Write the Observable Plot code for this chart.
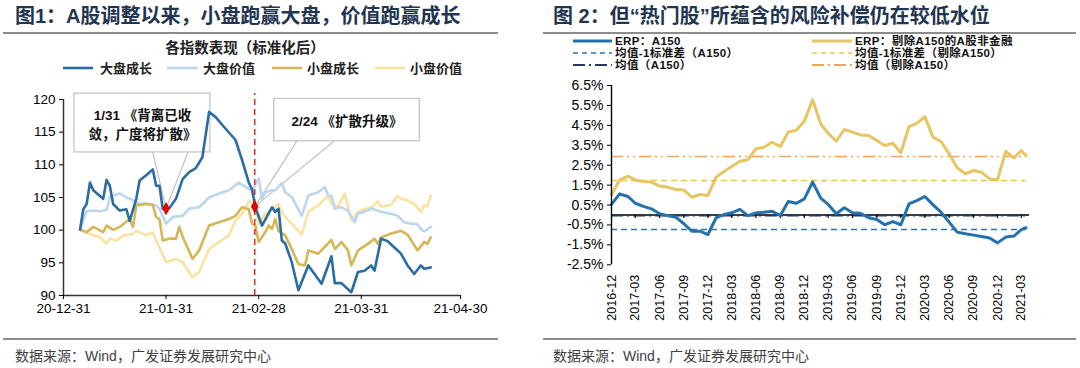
<!DOCTYPE html>
<html><head><meta charset="utf-8">
<script src="https://cdn.jsdelivr.net/npm/d3@7"></script>
<script src="https://cdn.jsdelivr.net/npm/@observablehq/plot@0.6"></script>
<style>
body{margin:0;background:#fff;width:1080px;height:368px;position:relative;overflow:hidden;font-family:"Liberation Sans","Noto Sans CJK SC",sans-serif;}
.title{position:absolute;top:4px;font-family:"Liberation Sans","Noto Sans CJK SC";font-weight:bold;font-size:20px;line-height:24px;color:#1f3550;white-space:nowrap;}
.foot{position:absolute;top:347px;font-family:"Liberation Sans","Noto Sans CJK SC";font-size:14px;line-height:18px;color:#404040;white-space:nowrap;}
.chart{position:absolute;}
</style></head>
<body>
<div class="title" style="left:15px">图1：A股调整以来，小盘跑赢大盘，价值跑赢成长</div>
<div class="title" style="left:553px">图 2：但“热门股”所蕴含的风险补偿仍在较低水位</div>
<div class="foot" style="left:15px">数据来源：Wind，广发证券发展研究中心</div>
<div class="foot" style="left:553px">数据来源：Wind，广发证券发展研究中心</div>
<div id="left" class="chart" style="left:0;top:80px"></div>
<div id="right" class="chart" style="left:540px;top:75px"></div>
<script>
// ---------- Left chart data (day offsets from 2020-12-31) ----------
const leftSubtitle = "各指数表现（标准化后）";
const seriesNames = ["大盘成长", "大盘价值", "小盘成长", "小盘价值"];
const bgDays = [5,6,7,8,9,12,13,14,15,17,19,20,22,23,25,27,28,29,30,31,32,34,36,38,40,42,44,46,48,52,54,56,57,58,60,63,64,65,66,67,69,71,74,78,81,82,84,87,89,91,93,94,96,98,101,102,104,106,108,109,111];
const bgVals = [100.1,103.2,104.0,107.3,106.1,104.8,107.7,106.8,104.0,103.0,103.2,101.4,104.8,107.6,108.4,109.3,106.8,106.8,103.3,103.2,103.4,104.8,107.8,108.9,109.5,111.2,118.1,117.3,116.1,113.8,110.7,107.3,106.2,103.5,100.7,103.5,102.8,103.3,98.4,98.0,95.1,90.8,94.6,91.8,96.0,91.9,91.9,90.5,93.6,93.8,94.6,93.8,98.7,98.3,96.9,96.4,94.6,93.3,94.6,94.1,94.3];
const bvDays = [5,7,9,11,13,14,15,17,19,21,23,25,28,29,31,33,36,38,41,44,47,50,53,55,57,59,60,61,63,64,66,67,69,72,74,77,79,80,81,82,84,86,88,89,92,93,96,99,101,103,105,107,108,109,111];
const bvVals = [100.05,102.9,103.0,102.9,103.1,105.0,105.3,105.6,105.0,104.6,104.0,104.1,103.8,103.3,101.0,102.0,102.2,103.3,103.5,105.0,105.6,106.1,107.3,106.6,106.1,107.9,104.8,105.8,106.1,106.1,107.2,105.8,105.1,102.2,105.3,105.8,106.6,105.3,105.2,103.3,103.5,103.0,101.2,102.5,103.0,103.3,102.8,102.5,102.2,101.2,101.0,100.9,100.2,99.8,100.5];
const sgDays = [5,7,9,12,13,15,17,20,21,22,25,27,28,29,30,32,34,35,36,39,41,44,47,50,52,54,56,57,58,59,61,62,63,64,65,67,69,71,73,74,77,81,82,84,86,87,89,92,94,95,96,99,102,104,107,109,110,111];
const sgVals = [100.05,99.7,100.5,99.7,100.7,100.05,100.5,101.7,100.5,103.8,104.0,103.9,102.0,101.7,98.4,98.7,98.7,100.5,99.0,95.6,96.9,100.7,101.2,101.7,102.2,103.5,103.2,101.0,100.7,98.2,99.7,100.7,100.2,101.7,99.9,99.2,97.1,94.8,94.6,96.9,96.4,98.5,97.1,98.2,96.9,94.6,96.9,97.9,98.7,97.9,98.9,99.5,99.9,99.3,96.9,98.2,97.9,98.9];
const svDays = [5,8,11,13,14,16,18,21,22,25,27,28,31,34,36,39,41,44,47,50,52,54,56,58,59,61,63,65,66,67,69,72,74,77,79,80,81,83,85,87,89,92,93,95,96,99,101,102,104,106,108,109,110,111];
const svVals = [100.05,99.4,98.9,97.9,98.7,98.4,99.2,99.4,99.9,99.2,99.7,98.4,95.1,95.6,95.1,92.8,93.6,97.1,98.2,99.2,101.5,102.5,104.5,103.6,101.0,102.5,103.3,104.0,102.8,102.0,101.0,99.3,102.8,103.8,104.8,105.3,104.0,103.6,105.6,101.5,102.8,103.4,103.4,104.4,103.6,103.9,105.3,104.8,104.6,104.0,102.8,103.8,103.6,105.3];
const leftXTickDays = [0, 31, 59, 90, 120];
const leftYTicks = [90, 95, 100, 105, 110, 115, 120];
// annotations (data units)
const noteText = ["1/31 《背离已收\n敛，广度将扩散》", "2/24 《扩散升级》"];
const noteBoxDays = [[3.3, 44.4], [63.7, 107.7]];
const noteBoxVals = [[111.9, 120.9], [113.6, 120.1]];
const notePointerDays = [[27, 37.6], [70.5, 81.7]];
const noteTipDays = [31, 57.8];
const noteTipVals = [103.3, 103.6];
const eventLineDay = 57.8;

// ---------- Right chart data ----------
const erpDates = ["2016-12-01","2017-01-01","2017-02-01","2017-03-01","2017-04-01","2017-05-01","2017-06-01","2017-07-01","2017-08-01","2017-09-01","2017-10-01","2017-11-01","2017-12-01",
"2018-01-01","2018-02-01","2018-03-01","2018-04-01","2018-05-01","2018-06-01","2018-07-01","2018-08-01","2018-09-01","2018-10-01","2018-11-01","2018-12-01",
"2019-01-01","2019-02-01","2019-03-01","2019-04-01","2019-05-01","2019-06-01","2019-07-01","2019-08-01","2019-09-01","2019-10-01","2019-11-01","2019-12-01",
"2020-01-01","2020-02-01","2020-03-01","2020-04-01","2020-05-01","2020-06-01","2020-07-01","2020-08-01","2020-09-01","2020-10-01","2020-11-01","2020-12-01",
"2021-01-01","2021-02-01","2021-03-01","2021-03-19"];
const erpA150 = [0.53,1.06,0.93,0.59,0.43,0.31,0.06,-0.03,-0.11,-0.44,-0.81,-0.81,-0.98,
-0.14,0.03,0.11,0.28,-0.03,0.11,0.14,0.19,-0.03,0.68,0.59,0.81,
1.65,0.85,0.53,0.06,0.36,0.11,0.09,-0.14,-0.23,-0.49,-0.33,-0.49,
0.56,0.73,0.93,0.51,0.14,-0.36,-0.86,-0.94,-1.01,-1.08,-1.15,-1.40,
-1.11,-1.06,-0.74,-0.64];
const erpExA150 = [1.02,1.76,1.95,1.76,1.68,1.65,1.45,1.40,1.28,1.26,0.89,1.03,0.98,
1.90,2.20,2.43,2.70,2.77,3.33,3.40,3.65,3.44,4.16,4.27,4.71,
5.78,4.57,4.10,3.70,4.29,4.16,4.02,3.99,3.74,3.49,3.60,3.12,
4.44,4.61,4.94,3.90,3.69,3.07,2.37,2.07,2.23,2.15,1.81,1.76,
3.19,2.87,3.24,2.98];
const meanA150 = -0.03, meanMinusSdA150 = -0.73;
const meanEx = 2.93, meanMinusSdEx = 1.73;
const rightXTicks = ["2016-12","2017-03","2017-06","2017-09","2017-12","2018-03","2018-06","2018-09","2018-12","2019-03","2019-06","2019-09","2019-12","2020-03","2020-06","2020-09","2020-12","2021-03"];
const rightYTicks = [-2.5,-1.5,-0.5,0.5,1.5,2.5,3.5,4.5,5.5,6.5];
const rightLegend = ["ERP：A150","均值-1标准差（A150）","均值（A150）","ERP：剔除A150的A股非金融","均值-1标准差（剔除A150）","均值（剔除A150）"];

// ---------- styles ----------
const C = {bg:"#2b6ca3", bv:"#bcd6ee", sg:"#d6b656", sv:"#f9e3a0",
  blue:"#2571ad", yellow:"#e6c562", blueDash:"#2e75b6", yellowDash:"#f0c24e", orange:"#f4a25a", navy:"#1f3864"};
const FONT = "Liberation Sans, Arial, Noto Sans CJK SC, sans-serif";

const day0 = Date.UTC(2020, 11, 31);
const toDate = d => new Date(day0 + d * 864e5);
const mk = (days, vals) => days.map((d, i) => ({date: toDate(d), value: vals[i]}));

const leftSeries = [
  {data: mk(svDays, svVals), color: C.sv},
  {data: mk(bvDays, bvVals), color: C.bv},
  {data: mk(sgDays, sgVals), color: C.sg},
  {data: mk(bgDays, bgVals), color: C.bg}
];
const boxes = noteText.map((t, i) => ({
  x1: toDate(noteBoxDays[i][0]), x2: toDate(noteBoxDays[i][1]),
  y1: noteBoxVals[i][0], y2: noteBoxVals[i][1],
  xm: toDate((noteBoxDays[i][0] + noteBoxDays[i][1]) / 2),
  ym: (noteBoxVals[i][0] + noteBoxVals[i][1]) / 2, text: t}));
const pointers = noteText.flatMap((t, i) => [
  {id: i, date: toDate(notePointerDays[i][0]), value: noteBoxVals[i][0]},
  {id: i, date: toDate(noteTipDays[i]), value: noteTipVals[i]},
  {id: i, date: toDate(notePointerDays[i][1]), value: noteBoxVals[i][0]}]);
const markers = noteTipDays.map((d, i) => ({date: toDate(d), value: noteTipVals[i]}));

const left = Plot.plot({
  width: 540, height: 245, marginLeft: 63, marginRight: 80, marginTop: 19, marginBottom: 30,
  style: {fontFamily: FONT, fontSize: "13px", color: "#000", background: "transparent", overflow: "visible"},
  x: {type: "utc", domain: [toDate(0), toDate(120)]},
  y: {domain: [90, 120]},
  marks: [
    Plot.rect(boxes, {x1: "x1", x2: "x2", y1: "y1", y2: "y2", fill: "white", stroke: "#c0c0c0", strokeWidth: 1.2}),
    Plot.line(pointers, {x: "date", y: "value", z: "id", stroke: "#c0c0c0", strokeWidth: 1.2}),
    ...leftSeries.map(s => Plot.line(s.data, {x: "date", y: "value", stroke: s.color, strokeWidth: 2.6})),
    Plot.ruleX([toDate(eventLineDay)], {y1: 90, y2: noteBoxVals[0][1], stroke: "#d63a34", strokeWidth: 1.6, strokeDasharray: "6,4"}),
    Plot.dot(markers, {x: "date", y: "value", symbol: "diamond", fill: "#e00000", r: 4}),
    Plot.text(boxes, {x: "xm", y: "ym", text: "text", fontSize: 13.5, fontWeight: "bold", lineHeight: 1.45, fill: "#111", fontFamily: FONT}),
    Plot.ruleY([90], {stroke: "#333", strokeWidth: 1.5}),
    Plot.ruleX([toDate(0)], {y1: 90, y2: 120, stroke: "#333", strokeWidth: 1.5}),
    Plot.axisX({ticks: leftXTickDays.map(toDate), tickFormat: d3.utcFormat("%y-%m-%d"), tickSize: 4, tickPadding: 4, label: null, fontSize: 13.5}),
    Plot.axisY({ticks: leftYTicks, tickSize: 4, tickPadding: 4, label: null, fontSize: 13.5})
  ]
});
document.getElementById("left").append(left);

const pd = s => new Date(s.length === 7 ? s + "-01" : s);
const erpRows = erpDates.map((d, i) => ({date: pd(d), a: erpA150[i], ex: erpExA150[i]}));
const xFirst = pd(erpDates[0]), xLast = pd(erpDates[erpDates.length - 1]);
const right = Plot.plot({
  width: 540, height: 255, marginLeft: 71, marginRight: 51, marginTop: 10, marginBottom: 65.7,
  style: {fontFamily: FONT, fontSize: "13px", color: "#000", background: "transparent", overflow: "visible"},
  x: {type: "utc", domain: [pd("2016-12"), pd("2021-04")]},
  y: {domain: [-2.5, 6.5]},
  marks: [
    Plot.ruleY([meanMinusSdA150], {x1: xFirst, x2: xLast, stroke: C.blueDash, strokeWidth: 1.5, strokeDasharray: "6,4"}),
    Plot.ruleY([meanMinusSdEx], {x1: xFirst, x2: xLast, stroke: C.yellowDash, strokeWidth: 1.5, strokeDasharray: "6,4"}),
    Plot.ruleY([meanEx], {x1: xFirst, x2: xLast, stroke: C.orange, strokeWidth: 1.5, strokeDasharray: "12,4,2,4,2,4"}),
    Plot.ruleY([0], {stroke: "#000", strokeWidth: 1.4}),
    Plot.ruleY([meanA150], {x1: xFirst, x2: xLast, stroke: C.navy, strokeWidth: 1.8, strokeDasharray: "12,4,2,4"}),
    Plot.ruleX(rightXTicks.map(pd), {y1: 0, y2: -0.18, stroke: "#000", strokeWidth: 1.2}),
    Plot.line(erpRows, {x: "date", y: "ex", stroke: C.yellow, strokeWidth: 3}),
    Plot.line(erpRows, {x: "date", y: "a", stroke: C.blue, strokeWidth: 3}),
    Plot.ruleX([pd("2016-12")], {stroke: "#000", strokeWidth: 1.4}),
    Plot.axisX({ticks: rightXTicks.map(pd), tickFormat: d3.utcFormat("%Y-%m"), tickRotate: -90, tickSize: 0, tickPadding: 10, label: null, fontSize: 12.5}),
    Plot.axisY({ticks: rightYTicks, tickFormat: d => d.toFixed(1) + "%", tickSize: 4, tickPadding: 4, label: null, fontSize: 14})
  ]
});
document.getElementById("right").append(right);

// ---------- Legends / rules overlay ----------
const ov = d3.select("body").append("svg").attr("width", 1080).attr("height", 368)
  .style("position", "absolute").style("left", 0).style("top", 0).style("pointer-events", "none");
[[3, 498], [543, 1076]].forEach(([a, b]) => {
  ov.append("line").attr("x1", a).attr("x2", b).attr("y1", 33).attr("y2", 33).attr("stroke", "#8c8c8c").attr("stroke-width", 2);
  ov.append("line").attr("x1", a).attr("x2", b).attr("y1", 339).attr("y2", 339).attr("stroke", "#8c8c8c").attr("stroke-width", 2);
});
ov.append("text").attr("x", 245).attr("y", 48).attr("text-anchor", "middle").attr("dominant-baseline", "central")
  .attr("font-family", FONT).attr("font-size", 14.5).attr("font-weight", "bold").attr("fill", "#222").text(leftSubtitle);
const leftLeg = [[63, 93, 100, C.bg], [167, 198, 203, C.bv], [272, 302, 307, C.sg], [375, 405, 410, C.sv]];
leftLeg.forEach(([a, b, t, c], i) => {
  ov.append("line").attr("x1", a).attr("x2", b).attr("y1", 68).attr("y2", 68).attr("stroke", c).attr("stroke-width", 2.6);
  ov.append("text").attr("x", t).attr("y", 68).attr("dominant-baseline", "central").attr("font-family", FONT)
    .attr("font-size", 13).attr("font-weight", "bold").attr("fill", "#222").text(seriesNames[i]);
});
const rl = [
  [573, 612, 615, 41, C.blue, 3, null],
  [573, 612, 615, 53, C.blueDash, 1.5, "5,4"],
  [573, 612, 615, 65, C.navy, 1.8, "12,4,2,4"],
  [812, 852, 855, 41, C.yellow, 3, null],
  [812, 852, 855, 53, C.yellowDash, 1.5, "5,4"],
  [812, 852, 855, 65, C.orange, 1.8, "12,4,2,4"]];
rl.forEach(([a, b, t, y, c, w, dash], i) => {
  const ln = ov.append("line").attr("x1", a).attr("x2", b).attr("y1", y).attr("y2", y).attr("stroke", c).attr("stroke-width", w);
  if (dash) ln.attr("stroke-dasharray", dash);
  ov.append("text").attr("x", t).attr("y", y).attr("dominant-baseline", "central").attr("font-family", FONT)
    .attr("font-size", 11.5).attr("letter-spacing", "0.4px").attr("font-weight", "bold").attr("fill", "#111").text(rightLegend[i]);
});
</script>
</body></html>
